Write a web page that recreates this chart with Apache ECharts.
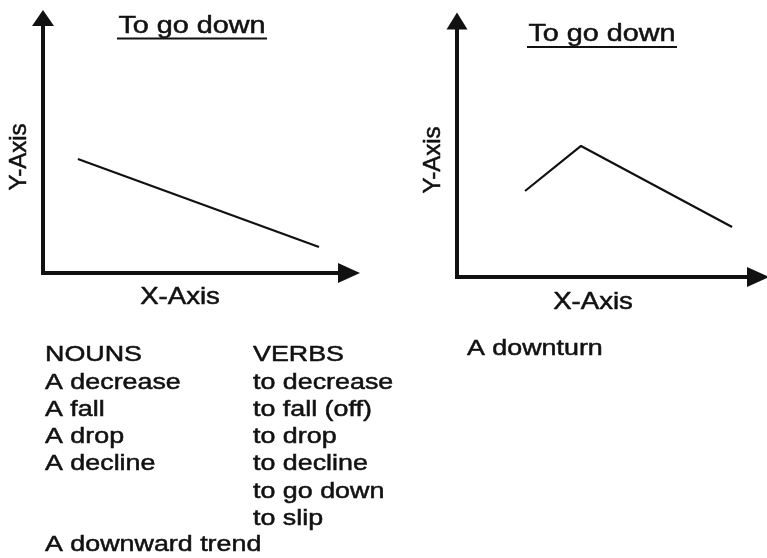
<!DOCTYPE html>
<html>
<head>
<meta charset="utf-8">
<script src="https://cdn.jsdelivr.net/npm/echarts@6/dist/echarts.min.js"></script>
<style>
html,body{margin:0;padding:0;background:#fff;}
#chart{width:767px;height:558px;}
</style>
</head>
<body>
<div id="chart"></div>
<script>
// ---- data ----
var chartTitles = ["To go down", "To go down"];
var axisNames = ["X-Axis", "Y-Axis"];
var leftLine = [[1.14, 4.47], [9.02, 1.02]];
var rightLine = [[2.26, 3.36], [4.12, 5.12], [9.14, 1.95]];
var nounsHeader = "NOUNS";
var verbsHeader = "VERBS";
var nouns = ["A decrease", "A fall", "A drop", "A decline", "", "", "A downward trend"];
var verbs = ["to decrease", "to fall (off)", "to drop", "to decline", "to go down", "to slip"];
var rightNote = "A downturn";

// ---- rendering ----
var INK = '#111';
var FONT = '"Liberation Sans", Arial, Helvetica, sans-serif';

function axisX(gridIndex, symbolSize) {
  return {
    type: 'value', gridIndex: gridIndex, min: 0, max: 10,
    axisLine: { show: true, symbol: ['none', 'triangle'], symbolSize: symbolSize,
      lineStyle: { color: INK, width: 4, cap: 'square' } },
    axisTick: { show: false }, axisLabel: { show: false }, splitLine: { show: false }
  };
}

function txt(text, x, y, size, scaleX, align, rotation) {
  return {
    type: 'text', x: x, y: y, scaleX: scaleX || 1, rotation: rotation || 0, silent: true,
    style: { x: 0, y: 0, text: text, fill: INK, font: size + 'px ' + FONT,
      stroke: INK, lineWidth: 0.5,
      align: align || 'left', verticalAlign: 'middle' }
  };
}

var graphics = [];
// titles (baseline-based positions)
var T = 23, TS = 1.25;
graphics.push(txt(chartTitles[0], 192, 35 - 0.35 * T, T, TS, 'center'));
graphics.push(txt(chartTitles[1], 602, 43 - 0.35 * T, T, TS, 'center'));
graphics.push({ type: 'line', silent: true, shape: { x1: 117, y1: 38.5, x2: 267, y2: 38.5 }, style: { stroke: INK, lineWidth: 2 } });
graphics.push({ type: 'line', silent: true, shape: { x1: 527, y1: 47, x2: 677, y2: 47 }, style: { stroke: INK, lineWidth: 2 } });
// axis names
graphics.push(txt(axisNames[0], 180, 297, 24, 1.15, 'center'));
graphics.push(txt(axisNames[0], 593, 302, 24, 1.15, 'center'));
graphics.push(txt(axisNames[1], 19, 157, 24, 1, 'center', Math.PI / 2));
graphics.push(txt(axisNames[1], 433, 160, 24, 1, 'center', Math.PI / 2));
// word lists
var B = 22, BS = 1.22;
var baselines = [363, 391, 418, 445, 472, 500, 527, 553];
graphics.push(txt(nounsHeader, 45, baselines[0] - 0.35 * B, B, BS));
graphics.push(txt(verbsHeader, 253, baselines[0] - 0.35 * B, B, BS));
nouns.forEach(function (w, i) { if (w) graphics.push(txt(w, 45, baselines[i + 1] - 0.35 * B, B, BS)); });
verbs.forEach(function (w, i) { graphics.push(txt(w, 253, baselines[i + 1] - 0.35 * B, B, BS)); });
graphics.push(txt(rightNote, 467, 357 - 0.35 * B, B, BS));

var chart = echarts.init(document.getElementById('chart'), null, { renderer: 'canvas' });
chart.setOption({
  backgroundColor: '#fff',
  animation: false,
  grid: [
    { left: 43, top: 18, width: 306, height: 255 },
    { left: 457, top: 21, width: 301, height: 256 }
  ],
  xAxis: [axisX(0, [20, 22]), axisX(1, [20, 22])],
  yAxis: [axisX(0, [22, 16]), axisX(1, [21, 17])],
  series: [
    { type: 'line', xAxisIndex: 0, yAxisIndex: 0, data: leftLine, showSymbol: false,
      lineStyle: { color: INK, width: 2.2 } },
    { type: 'line', xAxisIndex: 1, yAxisIndex: 1, data: rightLine, showSymbol: false,
      lineStyle: { color: INK, width: 2.2 } }
  ],
  graphic: graphics
});
</script>
</body>
</html>
